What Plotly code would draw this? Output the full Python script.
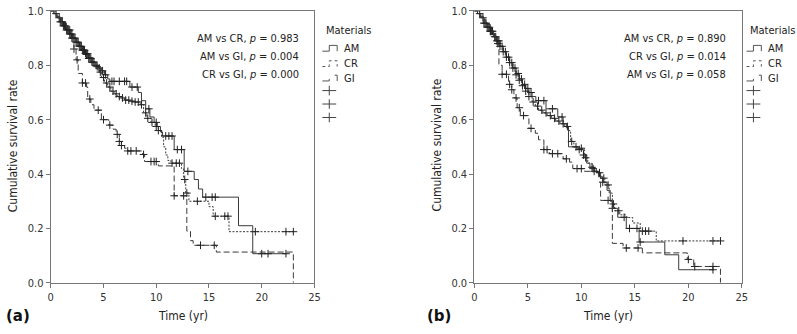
import numpy as np
import plotly.graph_objects as go

W, H = 797, 334
FONT = "Liberation Sans Narrow, DejaVu Sans Condensed, Arial Narrow, sans-serif"

# ---------------- Panel (a) data ----------------
am_a_t = [0, 0.3, 0.6, 0.9, 1.2, 1.5, 1.8, 2.1, 2.4, 2.7, 3.0, 3.3, 3.6, 3.9, 4.2, 4.5, 4.8, 5.1, 5.4, 5.6,
          7.5, 8.3, 8.6, 9.0, 9.4, 9.8, 10.1, 10.4, 10.6, 11.7, 12.65, 13.6, 14.0, 14.4, 17.8, 19.15, 22.35]
am_a_s = [1.0, 0.99, 0.975, 0.96, 0.945, 0.93, 0.915, 0.9, 0.885, 0.87, 0.855, 0.84, 0.825, 0.81, 0.8, 0.79, 0.78, 0.765, 0.75, 0.741,
          0.72, 0.70, 0.67, 0.64, 0.61, 0.59, 0.575, 0.555, 0.54, 0.49, 0.41, 0.38, 0.345, 0.315, 0.21, 0.107, 0.107]
am_a_cens = [0.8, 1.0, 1.1, 1.3, 1.5, 1.7, 1.9, 2.0, 2.2, 2.4, 2.6, 2.8, 3.0, 3.2, 3.4, 3.6, 3.8, 4.0, 4.3, 4.6, 4.9,
             5.2, 5.8, 6.0, 6.5, 7.0, 7.2, 7.7, 8.2, 9.3, 10.0, 10.9, 11.2, 11.5, 12.0, 12.4, 13.0, 14.7, 15.3, 15.6,
             20.0, 20.6, 22.3]

cr_a_t = [0, 0.3, 0.6, 0.9, 1.2, 1.5, 1.8, 2.1, 2.4, 2.7, 3.0, 3.3, 3.6, 3.9, 4.2, 4.5, 4.8, 5.1, 5.4, 5.7, 6.0,
          6.3, 6.6, 7.0, 7.5, 8.0, 8.5, 8.8, 9.1, 9.5, 9.9, 10.2, 10.5, 10.7, 10.9, 11.1, 11.4, 12.4, 12.6, 12.8,
          13.1, 15.0, 15.4, 16.9, 23.0]
cr_a_s = [1.0, 0.99, 0.975, 0.96, 0.945, 0.93, 0.915, 0.9, 0.885, 0.87, 0.857, 0.843, 0.828, 0.812, 0.795, 0.775,
          0.755, 0.735, 0.72, 0.705, 0.695, 0.685, 0.68, 0.672, 0.668, 0.665, 0.655, 0.625, 0.605, 0.59, 0.575,
          0.56, 0.535, 0.50, 0.47, 0.45, 0.44, 0.42, 0.38, 0.33, 0.30, 0.28, 0.245, 0.188, 0.188]
cr_a_cens = [0.5, 0.9, 1.2, 1.4, 1.6, 1.8, 2.1, 2.3, 2.5, 2.7, 2.9, 3.1, 3.3, 3.5, 3.7, 3.9, 4.1, 4.4, 4.7, 5.0,
             5.3, 5.6, 5.9, 6.2, 6.5, 6.8, 7.1, 7.4, 7.7, 8.0, 8.3, 8.6, 9.0, 9.2, 9.6, 10.0, 10.2, 11.5, 11.9,
             12.2, 12.7, 12.9, 13.9, 15.6, 16.5, 16.8, 19.4, 22.3, 23.0]

gi_a_t = [0, 0.5, 1.0, 1.5, 2.0, 2.2, 2.4, 2.6, 3.0, 3.4, 3.5, 3.8, 4.1, 4.8, 5.5, 5.9, 6.2, 6.5, 6.7, 7.0, 7.3,
          8.7, 8.9, 10.2, 11.7, 12.9, 13.25, 13.5, 15.7, 23.0]
gi_a_s = [1.0, 0.98, 0.955, 0.93, 0.9, 0.86, 0.82, 0.77, 0.735, 0.72, 0.676, 0.655, 0.635, 0.6, 0.58, 0.565,
          0.546, 0.52, 0.505, 0.495, 0.485, 0.472, 0.446, 0.43, 0.32, 0.19, 0.155, 0.138, 0.113, 0.0]
gi_a_cens = [1.8, 2.0, 2.2, 2.5, 3.0, 3.3, 3.7, 4.5, 5.0, 5.6, 6.3, 6.5, 6.7, 7.3, 7.6, 8.1, 8.8, 9.5, 9.8, 10.0,
             11.7, 12.6, 14.2, 15.5]

# ---------------- Panel (b) data ----------------
am_b_t = [0, 0.3, 0.6, 0.9, 1.2, 1.5, 1.8, 2.1, 2.4, 2.7, 3.0, 3.3, 3.6, 3.9, 4.2, 4.5, 4.8, 5.1, 5.4, 5.75,
          6.7, 7.8, 8.3, 8.6, 8.8, 9.6, 10.2, 10.5, 10.8, 11.2, 11.6, 12.0, 12.4, 12.7, 12.9, 13.4, 14.2, 15.4,
          17.8, 19.1, 22.4]
am_b_s = [1.0, 0.99, 0.975, 0.955, 0.94, 0.925, 0.905, 0.89, 0.87, 0.85, 0.83, 0.81, 0.79, 0.77, 0.75, 0.73,
          0.715, 0.7, 0.685, 0.67, 0.64, 0.61, 0.585, 0.57, 0.5, 0.49, 0.47, 0.44, 0.425, 0.41, 0.39, 0.37, 0.34,
          0.3, 0.274, 0.241, 0.2, 0.15, 0.103, 0.048, 0.048]
am_b_cens = [0.8, 1.0, 1.2, 1.4, 1.6, 1.9, 2.1, 2.3, 2.6, 2.9, 3.2, 3.5, 3.8, 4.1, 4.4, 4.7, 5.0, 5.3, 6.0, 6.5,
             7.3, 8.2, 9.8, 10.2, 11.0, 12.0, 12.9, 14.0, 14.5, 15.2, 15.5, 22.3]

cr_b_t = [0, 0.3, 0.6, 0.9, 1.2, 1.5, 1.8, 2.1, 2.4, 2.7, 3.0, 3.3, 3.6, 3.9, 4.2, 4.5, 4.8, 5.1, 5.4, 5.7, 6.0,
          6.4, 6.8, 7.2, 7.6, 8.0, 8.4, 8.8, 9.0, 9.3, 9.7, 10.1, 10.3, 10.6, 11.0, 11.4, 11.8, 12.2, 12.6, 12.9,
          13.1, 13.6, 14.2, 14.8, 15.5, 17.0, 23.0]
cr_b_s = [1.0, 0.99, 0.975, 0.955, 0.94, 0.925, 0.905, 0.89, 0.87, 0.85, 0.83, 0.81, 0.79, 0.765, 0.745, 0.725,
          0.705, 0.685, 0.665, 0.65, 0.635, 0.625, 0.615, 0.605, 0.595, 0.585, 0.575, 0.56, 0.52, 0.5, 0.495,
          0.49, 0.46, 0.44, 0.42, 0.405, 0.385, 0.36, 0.33, 0.29, 0.265, 0.25, 0.24, 0.22, 0.19, 0.154, 0.154]
cr_b_cens = [0.5, 0.9, 1.1, 1.3, 1.5, 1.7, 2.0, 2.2, 2.4, 2.7, 3.0, 3.3, 3.6, 3.9, 4.2, 4.5, 4.8, 5.1, 5.5, 5.9,
             6.3, 6.7, 7.1, 7.5, 7.9, 8.3, 8.7, 9.1, 9.5, 10.0, 10.4, 11.1, 11.7, 12.1, 12.5, 13.0, 13.5, 15.7,
             16.0, 16.3, 19.5, 22.3, 23.0]

gi_b_t = [0, 0.5, 1.0, 1.5, 2.0, 2.3, 2.6, 3.2, 3.5, 3.7, 4.0, 4.3, 5.1, 5.7, 6.0, 6.5, 7.0, 8.3, 8.9, 9.2, 10.3,
          11.8, 12.9, 13.9, 15.7, 19.9, 20.5, 23.0]
gi_b_s = [1.0, 0.98, 0.95, 0.925, 0.88, 0.80, 0.767, 0.73, 0.71, 0.68, 0.644, 0.615, 0.568, 0.55, 0.526, 0.49,
          0.475, 0.456, 0.444, 0.42, 0.41, 0.303, 0.145, 0.128, 0.11, 0.086, 0.06, 0.0]
gi_b_cens = [1.5, 2.2, 2.6, 3.0, 3.3, 3.5, 3.9, 4.2, 4.6, 5.3, 6.5, 6.8, 7.3, 7.8, 8.6, 9.6, 10.0, 11.2, 12.5,
             14.2, 15.3, 20.0, 20.6, 22.3]

materials = ["AM", "CR", "GI"]
pvals_a = ["AM vs CR, <i>p</i> = 0.983", "AM vs GI, <i>p</i> = 0.004", "CR vs GI, <i>p</i> = 0.000"]
pvals_b = ["AM vs CR, <i>p</i> = 0.890", "CR vs GI, <i>p</i> = 0.014", "AM vs GI, <i>p</i> = 0.058"]
x_ticks = [0, 5, 10, 15, 20, 25]
y_ticks = [0.0, 0.2, 0.4, 0.6, 0.8, 1.0]
y_ticktext = ["0.0", "0.2", "0.4", "0.6", "0.8", "1.0"]

LINE_COLOR = "#3a3a3a"
DASHES = {"AM": "solid", "CR": "2px,1.5px", "GI": "6px,3px"}


def px(x):
    return x / W


def py(y):
    return 1 - y / H


def surv_at(t, s, tc):
    t = np.asarray(t)
    s = np.asarray(s)
    idx = np.searchsorted(t, np.asarray(tc), side="right") - 1
    idx = np.clip(idx, 0, len(s) - 1)
    return s[idx]


fig = go.Figure()

panels = [
    ("x", "y", [(am_a_t, am_a_s, am_a_cens), (cr_a_t, cr_a_s, cr_a_cens), (gi_a_t, gi_a_s, gi_a_cens)]),
    ("x2", "y2", [(am_b_t, am_b_s, am_b_cens), (cr_b_t, cr_b_s, cr_b_cens), (gi_b_t, gi_b_s, gi_b_cens)]),
]
for xa, ya, curves in panels:
    for name, (t, s, c) in zip(materials, curves):
        fig.add_trace(go.Scatter(x=t, y=s, mode="lines", line_shape="hv", xaxis=xa, yaxis=ya,
                                 line=dict(color=LINE_COLOR, width=1, dash=DASHES[name]),
                                 showlegend=False, hoverinfo="skip", cliponaxis=False))
        fig.add_trace(go.Scatter(x=c, y=surv_at(t, s, c), mode="markers", xaxis=xa, yaxis=ya,
                                 marker=dict(symbol="cross-thin", size=5.5, color="#222",
                                             line=dict(width=1, color="#222")),
                                 showlegend=False, hoverinfo="skip"))

# plot area geometry (pixels)
A = dict(x0=48.3, x1=315.0)
B = dict(x0=476.7, x1=747.3)
Y_TOP, Y_BOT = 5.0, 288.0

axis_common = dict(showgrid=False, zeroline=False, showline=True, mirror=True,
                   linecolor="#777", linewidth=1, ticks="outside", ticklen=4, tickcolor="#777",
                   ticklabeloverflow="allow",
                   tickfont=dict(family=FONT, size=11, color="#333"))

fig.update_layout(
    width=W, height=H, margin=dict(l=0, r=0, t=0, b=0),
    paper_bgcolor="white", plot_bgcolor="white", showlegend=False,
    font=dict(family=FONT, color="#222"),
    xaxis=dict(axis_common, range=[0, 25], tickvals=x_ticks, domain=[px(A["x0"]), px(A["x1"])], anchor="y"),
    yaxis=dict(axis_common, range=[0, 1.0005], tickvals=y_ticks, ticktext=y_ticktext,
               domain=[py(Y_BOT), py(Y_TOP)], anchor="x"),
    xaxis2=dict(axis_common, range=[0, 25], tickvals=x_ticks, domain=[px(B["x0"]), px(B["x1"])], anchor="y2"),
    yaxis2=dict(axis_common, range=[0, 1.0005], tickvals=y_ticks, ticktext=y_ticktext,
                domain=[py(Y_BOT), py(Y_TOP)], anchor="x2"),
)

ann = []
shapes = []
for (xref, yref, pv, geo, label, label_x, ytitle_x, leg_x) in [
    ("x", "y", pvals_a, A, "(a)", 1, 10, 323),
    ("x2", "y2", pvals_b, B, "(b)", 427, 439, 752),
]:
    for i, txt in enumerate(pv):
        ann.append(dict(text=txt, x=23.7, y=[0.897, 0.832, 0.768][i], xref=xref, yref=yref,
                        xanchor="right", yanchor="middle", showarrow=False,
                        font=dict(family=FONT, size=11, color="#222")))
    # axis titles
    ann.append(dict(text="Time (yr)", x=px((geo["x0"] + geo["x1"]) / 2), y=py(323), xref="paper", yref="paper",
                    xanchor="center", yanchor="middle", showarrow=False,
                    font=dict(family=FONT, size=12, color="#222")))
    ann.append(dict(text="Cumulative survival rate", x=px(ytitle_x), y=py(145), xref="paper", yref="paper",
                    xanchor="center", yanchor="middle", textangle=-90, showarrow=False,
                    font=dict(family=FONT, size=12, color="#222")))
    ann.append(dict(text="<b>" + label + "</b>", x=px(label_x),
                    y=py(323), xref="paper", yref="paper", xanchor="left", yanchor="middle", showarrow=False,
                    font=dict(family="DejaVu Sans, sans-serif", size=15, color="#111")))
    # legend
    ann.append(dict(text="Materials", x=px(leg_x + 2), y=py(25), xref="paper", yref="paper",
                    xanchor="left", yanchor="middle", showarrow=False,
                    font=dict(family=FONT, size=11, color="#222")))
    ys = [44, 60, 75]
    for name, yy in zip(materials, ys):
        ann.append(dict(text=name, x=px(leg_x + 20), y=py(yy), xref="paper", yref="paper",
                        xanchor="left", yanchor="middle", showarrow=False,
                        font=dict(family=FONT, size=11, color="#222")))
        x0, x1 = leg_x, leg_x + 15
        path = (f"M {px(x0)},{py(yy + 3)} L {px(x0 + 7)},{py(yy + 3)} L {px(x0 + 7)},{py(yy - 3)} "
                f"L {px(x1)},{py(yy - 3)} L {px(x1)},{py(yy + 3)}")
        dash = {"solid": "solid", "2px,1.5px": "dot", "6px,3px": "dash"}[DASHES[name]]
        shapes.append(dict(type="path", path=path, xref="paper", yref="paper",
                           line=dict(color="#555", width=1, dash=dash)))
    for yy in [88, 102, 116]:
        shapes.append(dict(type="line", x0=px(leg_x), x1=px(leg_x + 14), y0=py(yy), y1=py(yy),
                           xref="paper", yref="paper", line=dict(color="#444", width=1)))
        shapes.append(dict(type="line", x0=px(leg_x + 7), x1=px(leg_x + 7), y0=py(yy - 5), y1=py(yy + 5),
                           xref="paper", yref="paper", line=dict(color="#444", width=1)))

fig.update_layout(annotations=ann, shapes=shapes)
fig.write_html("out.html")
